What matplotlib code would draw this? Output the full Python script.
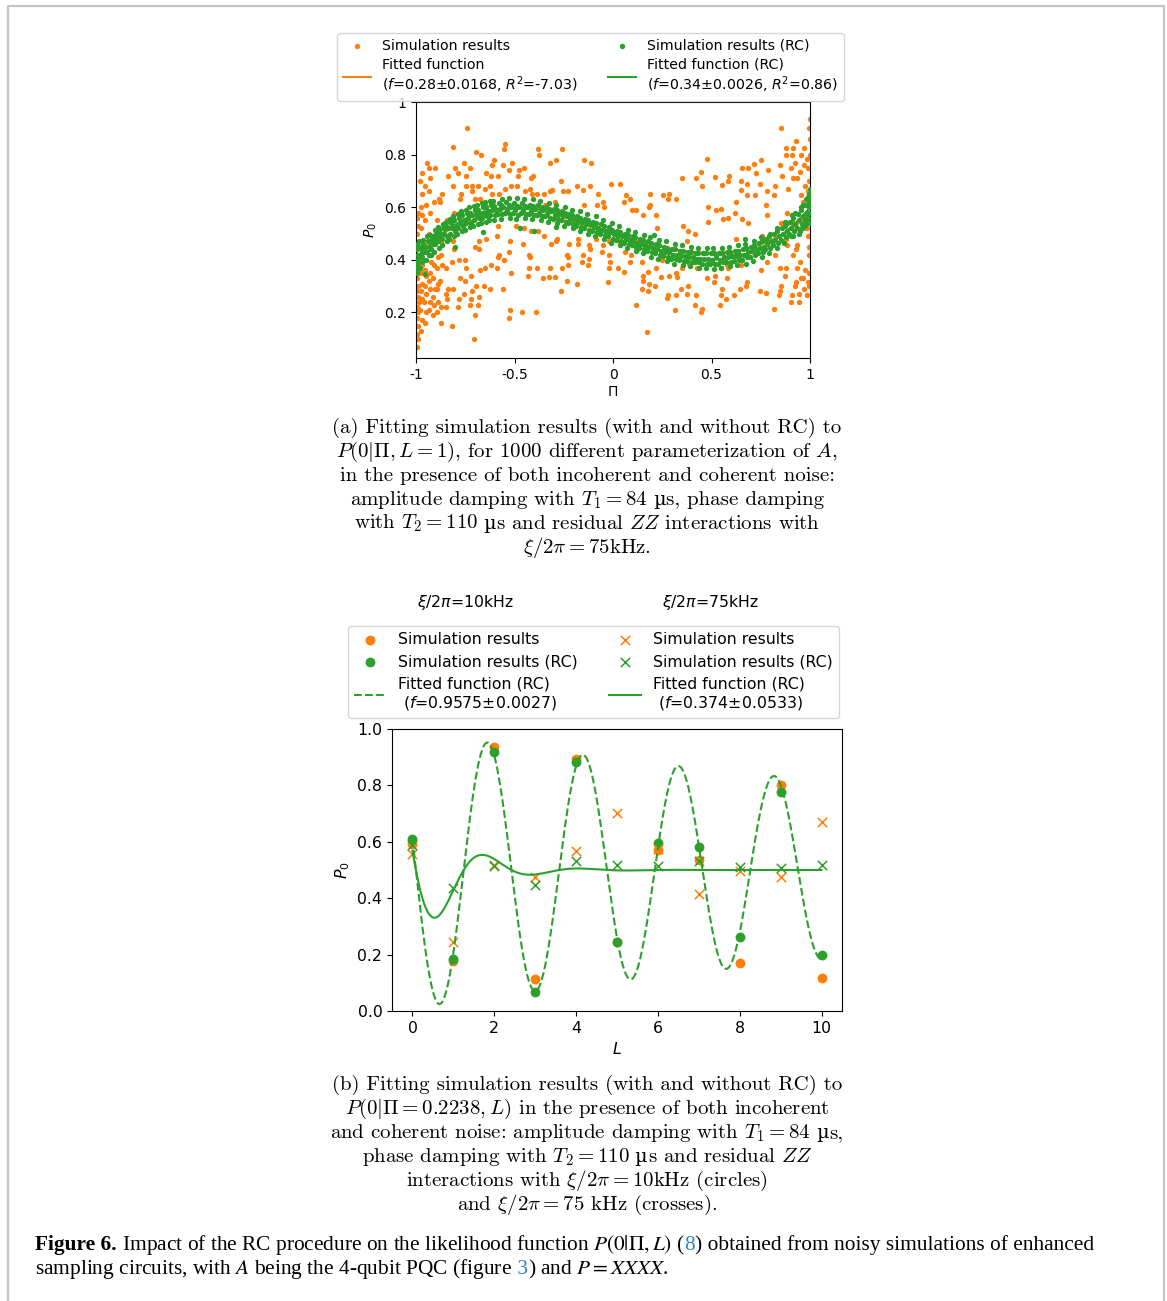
import numpy as np
import matplotlib
matplotlib.use("Agg")
import matplotlib.pyplot as plt

ORANGE = "#ff7f0e"
GREEN = "#2ca02c"
LINK = "#2b86c5"

# ---------------- panel (a): P(0|Pi, L=1) for 1000 parameterizations ----------------
# (Pi, P0) pairs without RC
sim_pts = [
    (-0.995, 0.07), (-0.99, 0.10), (-0.993, 0.12), (-0.988, 0.15), (-0.996, 0.18), (-0.99, 0.20),
    (-0.994, 0.22), (-0.986, 0.24), (-0.992, 0.26), (-0.997, 0.28), (-0.989, 0.30), (-0.994, 0.33),
    (-0.987, 0.36), (-0.995, 0.40), (-0.99, 0.45), (-0.993, 0.50), (-0.988, 0.53), (-0.996, 0.56),
    (-0.991, 0.58), (-0.975, 0.13), (-0.972, 0.17), (-0.978, 0.21), (-0.97, 0.25), (-0.976, 0.28),
    (-0.968, 0.31), (-0.974, 0.35), (-0.971, 0.38), (-0.977, 0.42), (-0.973, 0.52), (-0.969, 0.57),
    (-0.975, 0.60), (-0.972, 0.65), (-0.978, 0.70), (-0.97, 0.73), (-0.955, 0.16), (-0.951, 0.20),
    (-0.957, 0.24), (-0.948, 0.27), (-0.953, 0.30), (-0.95, 0.34), (-0.956, 0.36), (-0.947, 0.43),
    (-0.952, 0.55), (-0.949, 0.61), (-0.954, 0.68), (-0.946, 0.77), (-0.935, 0.21), (-0.931, 0.24),
    (-0.928, 0.29), (-0.934, 0.32), (-0.93, 0.35), (-0.926, 0.39), (-0.933, 0.50), (-0.929, 0.58),
    (-0.936, 0.66), (-0.927, 0.71), (-0.932, 0.75), (-0.915, 0.19), (-0.91, 0.23), (-0.912, 0.26),
    (-0.906, 0.29), (-0.914, 0.33), (-0.908, 0.38), (-0.911, 0.62), (-0.905, 0.75), (-0.895, 0.20),
    (-0.889, 0.24), (-0.892, 0.29), (-0.886, 0.31), (-0.894, 0.37), (-0.888, 0.41), (-0.891, 0.55),
    (-0.885, 0.63), (-0.875, 0.16), (-0.871, 0.22), (-0.878, 0.32), (-0.866, 0.38), (-0.873, 0.42),
    (-0.869, 0.46), (-0.876, 0.62), (-0.868, 0.65), (-0.85, 0.22), (-0.843, 0.25), (-0.848, 0.27),
    (-0.838, 0.29), (-0.846, 0.37), (-0.84, 0.52), (-0.845, 0.55), (-0.836, 0.72), (-0.815, 0.15),
    (-0.81, 0.29), (-0.818, 0.39), (-0.806, 0.44), (-0.812, 0.47), (-0.808, 0.58), (-0.814, 0.68),
    (-0.804, 0.75), (-0.81, 0.83), (-0.785, 0.22), (-0.78, 0.25), (-0.776, 0.33), (-0.782, 0.40),
    (-0.778, 0.63), (-0.774, 0.65), (-0.786, 0.73), (-0.755, 0.27), (-0.75, 0.32), (-0.746, 0.37),
    (-0.752, 0.40), (-0.748, 0.68), (-0.744, 0.72), (-0.754, 0.77), (-0.74, 0.90), (-0.725, 0.23),
    (-0.72, 0.25), (-0.716, 0.28), (-0.722, 0.34), (-0.718, 0.66), (-0.714, 0.68), (-0.726, 0.75),
    (-0.705, 0.10), (-0.70, 0.19), (-0.696, 0.30), (-0.702, 0.45), (-0.698, 0.63), (-0.694, 0.81),
    (-0.685, 0.23), (-0.68, 0.26), (-0.676, 0.36), (-0.682, 0.44), (-0.678, 0.47), (-0.674, 0.63),
    (-0.686, 0.68), (-0.67, 0.80), (-0.655, 0.30), (-0.65, 0.37), (-0.646, 0.48), (-0.652, 0.61),
    (-0.648, 0.67), (-0.644, 0.73), (-0.625, 0.29), (-0.62, 0.38), (-0.616, 0.65), (-0.622, 0.68),
    (-0.618, 0.72), (-0.612, 0.76), (-0.606, 0.78), (-0.59, 0.37), (-0.585, 0.41), (-0.58, 0.42),
    (-0.588, 0.49), (-0.582, 0.53), (-0.578, 0.65), (-0.586, 0.72), (-0.56, 0.29), (-0.555, 0.40),
    (-0.55, 0.67), (-0.558, 0.76), (-0.552, 0.82), (-0.546, 0.84), (-0.53, 0.18), (-0.525, 0.21),
    (-0.52, 0.35), (-0.528, 0.43), (-0.522, 0.47), (-0.518, 0.68), (-0.526, 0.74), (-0.514, 0.77),
    (-0.49, 0.53), (-0.485, 0.68), (-0.48, 0.72), (-0.476, 0.74), (-0.46, 0.20), (-0.455, 0.46),
    (-0.45, 0.52), (-0.446, 0.66), (-0.452, 0.75), (-0.43, 0.34), (-0.425, 0.37), (-0.42, 0.41),
    (-0.428, 0.42), (-0.416, 0.51), (-0.412, 0.65), (-0.422, 0.67), (-0.418, 0.71), (-0.408, 0.72),
    (-0.39, 0.20), (-0.385, 0.37), (-0.38, 0.51), (-0.388, 0.65), (-0.378, 0.80), (-0.382, 0.82),
    (-0.355, 0.33), (-0.35, 0.49), (-0.346, 0.61), (-0.352, 0.65), (-0.325, 0.335), (-0.32, 0.37),
    (-0.316, 0.46), (-0.322, 0.66), (-0.312, 0.665), (-0.318, 0.77), (-0.295, 0.335), (-0.29, 0.47),
    (-0.286, 0.48), (-0.292, 0.62), (-0.288, 0.78), (-0.265, 0.28), (-0.26, 0.37), (-0.256, 0.66),
    (-0.262, 0.70), (-0.258, 0.82), (-0.235, 0.32), (-0.23, 0.38), (-0.226, 0.41), (-0.232, 0.42),
    (-0.222, 0.46), (-0.228, 0.66), (-0.185, 0.31), (-0.18, 0.46), (-0.176, 0.48), (-0.182, 0.68),
    (-0.155, 0.39), (-0.15, 0.42), (-0.146, 0.61), (-0.152, 0.665), (-0.148, 0.78), (-0.125, 0.38),
    (-0.12, 0.405), (-0.116, 0.44), (-0.122, 0.455), (-0.118, 0.68), (-0.112, 0.77), (-0.085, 0.48),
    (-0.08, 0.61), (-0.076, 0.65), (-0.055, 0.43), (-0.05, 0.455), (-0.046, 0.60), (-0.052, 0.62),
    (-0.025, 0.315), (-0.02, 0.37), (-0.016, 0.39), (-0.022, 0.42), (-0.018, 0.47), (-0.012, 0.51),
    (-0.008, 0.69), (0.025, 0.37), (0.03, 0.47), (0.035, 0.69), (0.055, 0.355), (0.06, 0.43),
    (0.064, 0.645), (0.058, 0.62), (0.085, 0.39), (0.09, 0.42), (0.094, 0.59), (0.088, 0.63),
    (0.115, 0.23), (0.12, 0.44), (0.124, 0.455), (0.118, 0.59), (0.145, 0.29), (0.15, 0.32),
    (0.154, 0.34), (0.148, 0.39), (0.152, 0.57), (0.175, 0.125), (0.18, 0.28), (0.184, 0.31),
    (0.178, 0.355), (0.182, 0.60), (0.186, 0.61), (0.19, 0.65), (0.215, 0.30), (0.22, 0.37),
    (0.224, 0.52), (0.218, 0.57), (0.245, 0.335), (0.25, 0.40), (0.254, 0.645), (0.275, 0.255),
    (0.28, 0.265), (0.284, 0.34), (0.278, 0.63), (0.286, 0.65), (0.315, 0.21), (0.32, 0.265),
    (0.324, 0.335), (0.318, 0.35), (0.322, 0.63), (0.345, 0.29), (0.35, 0.37), (0.354, 0.53),
    (0.348, 0.71), (0.375, 0.27), (0.38, 0.30), (0.384, 0.385), (0.378, 0.47), (0.382, 0.51),
    (0.415, 0.23), (0.42, 0.265), (0.424, 0.37), (0.418, 0.50), (0.422, 0.71), (0.445, 0.20),
    (0.45, 0.215), (0.454, 0.68), (0.448, 0.735), (0.475, 0.33), (0.48, 0.545), (0.484, 0.60),
    (0.478, 0.785), (0.515, 0.315), (0.52, 0.34), (0.524, 0.59), (0.518, 0.715), (0.545, 0.23),
    (0.55, 0.265), (0.554, 0.29), (0.548, 0.595), (0.552, 0.685), (0.556, 0.557), (0.575, 0.25),
    (0.58, 0.33), (0.584, 0.37), (0.578, 0.38), (0.582, 0.56), (0.586, 0.70), (0.59, 0.72),
    (0.615, 0.265), (0.62, 0.42), (0.624, 0.48), (0.618, 0.58), (0.622, 0.62), (0.645, 0.29),
    (0.65, 0.38), (0.654, 0.557), (0.648, 0.665), (0.652, 0.70), (0.656, 0.75), (0.675, 0.30),
    (0.68, 0.315), (0.684, 0.54), (0.678, 0.645), (0.682, 0.69), (0.686, 0.75), (0.715, 0.43),
    (0.72, 0.645), (0.724, 0.73), (0.718, 0.765), (0.745, 0.28), (0.75, 0.36), (0.754, 0.49),
    (0.748, 0.69), (0.752, 0.78), (0.775, 0.275), (0.78, 0.39), (0.784, 0.57), (0.778, 0.61),
    (0.782, 0.66), (0.786, 0.74), (0.815, 0.215), (0.82, 0.42), (0.824, 0.48), (0.818, 0.645),
    (0.822, 0.68), (0.845, 0.265), (0.85, 0.28), (0.854, 0.30), (0.848, 0.37), (0.852, 0.54),
    (0.856, 0.72), (0.846, 0.76), (0.855, 0.90), (0.875, 0.34), (0.88, 0.37), (0.884, 0.455),
    (0.878, 0.48), (0.882, 0.58), (0.886, 0.67), (0.876, 0.80), (0.88, 0.825), (0.905, 0.24),
    (0.91, 0.265), (0.912, 0.42), (0.908, 0.545), (0.914, 0.71), (0.906, 0.75), (0.91, 0.80),
    (0.916, 0.825), (0.925, 0.30), (0.93, 0.315), (0.934, 0.37), (0.928, 0.44), (0.932, 0.455),
    (0.936, 0.71), (0.926, 0.77), (0.93, 0.85), (0.945, 0.24), (0.95, 0.39), (0.954, 0.645),
    (0.948, 0.735), (0.952, 0.80), (0.956, 0.33), (0.946, 0.27), (0.965, 0.33), (0.97, 0.52),
    (0.974, 0.68), (0.968, 0.76), (0.972, 0.29), (0.976, 0.36), (0.966, 0.62), (0.97, 0.825),
    (0.975, 0.55), (0.985, 0.265), (0.99, 0.315), (0.994, 0.42), (0.988, 0.49), (0.992, 0.61),
    (0.996, 0.70), (0.986, 0.785), (0.998, 0.86), (0.995, 0.90), (0.999, 0.935), (0.99, 0.58),
    (0.993, 0.35), (0.997, 0.30), (0.989, 0.75), (0.991, 0.66), (0.996, 0.45), (0.987, 0.52),
    (0.999, 0.80),
]

# (Pi, P0) pairs with randomized compiling
rc_pts = [
    (-0.999, 0.36), (-0.998, 0.44), (-0.997, 0.40), (-0.996, 0.35), (-0.995, 0.46), (-0.993, 0.38),
    (-0.992, 0.42), (-0.988, 0.39), (-0.985, 0.45), (-0.982, 0.41), (-0.978, 0.37), (-0.975, 0.44),
    (-0.972, 0.43), (-0.968, 0.41), (-0.963, 0.46), (-0.958, 0.43), (-0.955, 0.348), (-0.952, 0.45),
    (-0.946, 0.43), (-0.941, 0.47), (-0.936, 0.45), (-0.932, 0.42), (-0.926, 0.44), (-0.921, 0.48),
    (-0.916, 0.46), (-0.912, 0.49), (-0.906, 0.46), (-0.901, 0.50), (-0.896, 0.47), (-0.892, 0.49),
    (-0.886, 0.47), (-0.881, 0.51), (-0.876, 0.49), (-0.866, 0.48), (-0.861, 0.52), (-0.856, 0.50),
    (-0.846, 0.53), (-0.841, 0.49), (-0.836, 0.52), (-0.826, 0.50), (-0.821, 0.54), (-0.816, 0.52),
    (-0.806, 0.55), (-0.801, 0.51), (-0.796, 0.53), (-0.80, 0.45), (-0.786, 0.52), (-0.781, 0.56),
    (-0.776, 0.54), (-0.766, 0.57), (-0.761, 0.53), (-0.756, 0.55), (-0.746, 0.54), (-0.741, 0.58),
    (-0.736, 0.56), (-0.726, 0.58), (-0.721, 0.54), (-0.716, 0.57), (-0.706, 0.55), (-0.701, 0.59),
    (-0.696, 0.57), (-0.686, 0.59), (-0.681, 0.56), (-0.676, 0.575), (-0.666, 0.56), (-0.661, 0.60),
    (-0.656, 0.58), (-0.660, 0.504), (-0.646, 0.60), (-0.641, 0.565), (-0.636, 0.585), (-0.626, 0.57),
    (-0.621, 0.61), (-0.616, 0.59), (-0.606, 0.605), (-0.601, 0.57), (-0.596, 0.59), (-0.586, 0.575),
    (-0.581, 0.615), (-0.576, 0.595), (-0.566, 0.61), (-0.561, 0.575), (-0.556, 0.60), (-0.546, 0.58),
    (-0.541, 0.62), (-0.536, 0.59), (-0.526, 0.61), (-0.521, 0.575), (-0.516, 0.60), (-0.506, 0.58),
    (-0.501, 0.615), (-0.496, 0.59), (-0.486, 0.605), (-0.481, 0.57), (-0.476, 0.60), (-0.47, 0.52),
    (-0.466, 0.58), (-0.461, 0.615), (-0.456, 0.59), (-0.446, 0.605), (-0.441, 0.575), (-0.436, 0.60),
    (-0.426, 0.575), (-0.421, 0.61), (-0.416, 0.585), (-0.406, 0.605), (-0.401, 0.57), (-0.396, 0.595),
    (-0.40, 0.51), (-0.386, 0.57), (-0.381, 0.61), (-0.376, 0.58), (-0.366, 0.60), (-0.361, 0.565),
    (-0.356, 0.59), (-0.346, 0.565), (-0.341, 0.60), (-0.336, 0.575), (-0.326, 0.595), (-0.321, 0.56),
    (-0.316, 0.585), (-0.306, 0.555), (-0.301, 0.595), (-0.296, 0.57), (-0.29, 0.525), (-0.286, 0.59),
    (-0.281, 0.555), (-0.276, 0.575), (-0.266, 0.55), (-0.261, 0.585), (-0.256, 0.565), (-0.246, 0.58),
    (-0.241, 0.545), (-0.236, 0.565), (-0.226, 0.54), (-0.221, 0.575), (-0.216, 0.555), (-0.206, 0.57),
    (-0.201, 0.535), (-0.196, 0.555), (-0.186, 0.53), (-0.181, 0.565), (-0.176, 0.545), (-0.166, 0.56),
    (-0.161, 0.525), (-0.156, 0.545), (-0.146, 0.52), (-0.141, 0.555), (-0.136, 0.535), (-0.126, 0.55),
    (-0.121, 0.515), (-0.116, 0.535), (-0.106, 0.51), (-0.101, 0.545), (-0.096, 0.525), (-0.086, 0.54),
    (-0.081, 0.505), (-0.076, 0.52), (-0.066, 0.50), (-0.061, 0.535), (-0.056, 0.515), (-0.046, 0.53),
    (-0.041, 0.495), (-0.036, 0.51), (-0.026, 0.49), (-0.021, 0.525), (-0.016, 0.505), (-0.006, 0.515),
    (-0.001, 0.48), (0.004, 0.50), (0.014, 0.475), (0.019, 0.51), (0.024, 0.49), (0.034, 0.505),
    (0.039, 0.47), (0.044, 0.49), (0.054, 0.465), (0.059, 0.50), (0.064, 0.48), (0.074, 0.495),
    (0.079, 0.46), (0.084, 0.475), (0.094, 0.455), (0.099, 0.49), (0.104, 0.47), (0.114, 0.485),
    (0.119, 0.45), (0.124, 0.465), (0.134, 0.445), (0.139, 0.48), (0.144, 0.46), (0.154, 0.475),
    (0.159, 0.44), (0.164, 0.455), (0.174, 0.435), (0.179, 0.47), (0.184, 0.45), (0.194, 0.465),
    (0.199, 0.43), (0.204, 0.445), (0.21, 0.494), (0.214, 0.425), (0.219, 0.46), (0.224, 0.44),
    (0.234, 0.455), (0.239, 0.42), (0.244, 0.435), (0.254, 0.415), (0.259, 0.45), (0.264, 0.43),
    (0.274, 0.445), (0.279, 0.41), (0.284, 0.43), (0.294, 0.405), (0.299, 0.44), (0.304, 0.42),
    (0.314, 0.44), (0.319, 0.405), (0.324, 0.42), (0.334, 0.40), (0.339, 0.435), (0.344, 0.415),
    (0.354, 0.435), (0.359, 0.395), (0.364, 0.415), (0.374, 0.395), (0.379, 0.43), (0.384, 0.41),
    (0.394, 0.43), (0.399, 0.39), (0.404, 0.41), (0.414, 0.39), (0.419, 0.425), (0.424, 0.405),
    (0.434, 0.425), (0.439, 0.39), (0.444, 0.405), (0.454, 0.385), (0.459, 0.425), (0.464, 0.405),
    (0.474, 0.425), (0.479, 0.385), (0.484, 0.405), (0.494, 0.385), (0.499, 0.425), (0.504, 0.40),
    (0.514, 0.425), (0.519, 0.385), (0.524, 0.41), (0.534, 0.385), (0.539, 0.425), (0.544, 0.40),
    (0.55, 0.37), (0.554, 0.425), (0.559, 0.39), (0.564, 0.41), (0.574, 0.39), (0.579, 0.43),
    (0.584, 0.41), (0.594, 0.43), (0.599, 0.39), (0.604, 0.415), (0.614, 0.395), (0.619, 0.435),
    (0.624, 0.415), (0.634, 0.435), (0.639, 0.40), (0.644, 0.42), (0.654, 0.40), (0.659, 0.44),
    (0.664, 0.42), (0.67, 0.48), (0.674, 0.445), (0.679, 0.41), (0.684, 0.43), (0.694, 0.41),
    (0.699, 0.45), (0.704, 0.435), (0.714, 0.455), (0.719, 0.42), (0.724, 0.44), (0.734, 0.425),
    (0.739, 0.465), (0.744, 0.445), (0.754, 0.47), (0.759, 0.43), (0.764, 0.45), (0.774, 0.44),
    (0.779, 0.48), (0.784, 0.46), (0.794, 0.49), (0.799, 0.445), (0.804, 0.47), (0.814, 0.455),
    (0.819, 0.50), (0.824, 0.475), (0.834, 0.51), (0.839, 0.465), (0.844, 0.49), (0.854, 0.475),
    (0.859, 0.52), (0.864, 0.50), (0.874, 0.53), (0.879, 0.485), (0.884, 0.51), (0.882, 0.54),
    (0.894, 0.50), (0.899, 0.545), (0.904, 0.52), (0.902, 0.49), (0.914, 0.56), (0.919, 0.51),
    (0.924, 0.535), (0.922, 0.58), (0.934, 0.52), (0.939, 0.575), (0.944, 0.55), (0.942, 0.50),
    (0.954, 0.59), (0.959, 0.535), (0.964, 0.565), (0.962, 0.61), (0.957, 0.52), (0.974, 0.55),
    (0.979, 0.61), (0.984, 0.58), (0.982, 0.63), (0.977, 0.53), (0.990, 0.56), (0.993, 0.62),
    (0.995, 0.60), (0.997, 0.65), (0.998, 0.54), (0.999, 0.67), (0.996, 0.58), (0.992, 0.64),
    # outer edge of the RC band
    (-0.99, 0.37), (-0.985, 0.47), (-0.97, 0.39), (-0.965, 0.475), (-0.95, 0.40), (-0.945, 0.49),
    (-0.93, 0.495), (-0.925, 0.42), (-0.91, 0.43), (-0.905, 0.515), (-0.89, 0.525), (-0.885, 0.445),
    (-0.87, 0.455), (-0.865, 0.535), (-0.85, 0.545), (-0.845, 0.47), (-0.83, 0.48), (-0.825, 0.555),
    (-0.81, 0.565), (-0.805, 0.49), (-0.79, 0.50), (-0.785, 0.575), (-0.77, 0.585), (-0.765, 0.51),
    (-0.75, 0.515), (-0.745, 0.59), (-0.73, 0.60), (-0.725, 0.525), (-0.71, 0.53), (-0.705, 0.605),
    (-0.69, 0.61), (-0.685, 0.535), (-0.67, 0.54), (-0.665, 0.615), (-0.65, 0.62), (-0.645, 0.545),
    (-0.63, 0.55), (-0.625, 0.625), (-0.61, 0.625), (-0.605, 0.55), (-0.57, 0.555), (-0.565, 0.63),
    (-0.53, 0.635), (-0.525, 0.56), (-0.49, 0.555), (-0.485, 0.635), (-0.45, 0.63), (-0.445, 0.56),
    (-0.41, 0.555), (-0.405, 0.63), (-0.37, 0.625), (-0.365, 0.55), (-0.33, 0.545), (-0.325, 0.615),
    (-0.29, 0.61), (-0.285, 0.54), (-0.25, 0.53), (-0.245, 0.60), (-0.21, 0.59), (-0.205, 0.52),
    (-0.17, 0.51), (-0.165, 0.585), (-0.13, 0.575), (-0.125, 0.50), (-0.09, 0.49), (-0.085, 0.565),
    (-0.05, 0.55), (-0.045, 0.48), (-0.01, 0.465), (-0.005, 0.54), (0.03, 0.53), (0.035, 0.455),
    (0.07, 0.445), (0.075, 0.515), (0.11, 0.505), (0.115, 0.435), (0.15, 0.425), (0.155, 0.495),
    (0.19, 0.485), (0.195, 0.41), (0.23, 0.405), (0.235, 0.475), (0.27, 0.47), (0.275, 0.395),
    (0.31, 0.385), (0.315, 0.46), (0.35, 0.455), (0.355, 0.38), (0.39, 0.375), (0.395, 0.45),
    (0.43, 0.445), (0.435, 0.37), (0.47, 0.37), (0.475, 0.445), (0.51, 0.445), (0.515, 0.365),
    (0.55, 0.37), (0.555, 0.445), (0.59, 0.45), (0.595, 0.375), (0.63, 0.38), (0.635, 0.455),
    (0.67, 0.46), (0.675, 0.385), (0.71, 0.395), (0.715, 0.47), (0.75, 0.485), (0.755, 0.41),
    (0.79, 0.425), (0.795, 0.50), (0.83, 0.52), (0.835, 0.445), (0.87, 0.465), (0.875, 0.545),
    (0.91, 0.57), (0.915, 0.49), (0.95, 0.51), (0.955, 0.60), (0.99, 0.63), (0.985, 0.54),
]

# fitted decay parameters for L = 1
f_sim_a, f_rc_a = 0.28, 0.34

# ---------------- panel (b): P(0|Pi=0.2238, L) ----------------
pi_b = 0.2238
L_vals = [0, 1, 2, 3, 4, 5, 6, 7, 8, 9, 10]
p_10k = [0.593, 0.178, 0.935, 0.112, 0.894, 0.244, 0.572, 0.537, 0.169, 0.802, 0.118]
p_10k_rc = [0.610, 0.185, 0.919, 0.066, 0.882, 0.244, 0.596, 0.583, 0.261, 0.776, 0.197]
p_75k = [0.557, 0.245, 0.517, 0.474, 0.566, 0.703, 0.575, 0.415, 0.498, 0.476, 0.670]
p_75k_rc = [0.590, 0.436, 0.514, 0.447, 0.531, 0.519, 0.514, 0.532, 0.511, 0.506, 0.517]
f_10k_rc, f_75k_rc = 0.9575, 0.374


def likelihood(pi, L, f):
    # P(0|Pi, L) with depolarising factor f
    return 0.5 * (1 + f ** (L + 0.5) * np.cos((2 * L + 1) * np.arccos(pi)))


W, H = 1167, 1301
fig = plt.figure(figsize=(W / 100, H / 100), dpi=100)


def fx(px):
    return px / W


def fy(py):
    return 1 - py / H


# page frame
frame = fig.add_axes([0, 0, 1, 1], zorder=-5)
frame.set_xlim(0, W)
frame.set_ylim(H, 0)
frame.axis("off")
frame.plot([7.5, 7.5, 1163.5, 1163.5], [H + 5, 5.5, 5.5, H + 5], color="#c4c4c4", lw=1.6)

# ---------- top axes ----------
ax1 = fig.add_axes([fx(416), fy(358), fx(810) - fx(416), fy(102) - fy(358)])
sim_x, sim_y = zip(*sim_pts)
rc_x, rc_y = zip(*rc_pts)
pis = np.linspace(-1, 1, 400)
ln_sim, = ax1.plot(pis, likelihood(pis, 1, f_sim_a), color=ORANGE, lw=1.5, zorder=1,
                   label="Fitted function\n($f$=0.28±0.0168, $R^2$=-7.03)")
ln_rc, = ax1.plot(pis, likelihood(pis, 1, f_rc_a), color=GREEN, lw=1.5, zorder=1,
                  label="Fitted function (RC)\n($f$=0.34±0.0026, $R^2$=0.86)")
sc_sim = ax1.scatter(sim_x, sim_y, s=15, color=ORANGE, lw=0, zorder=2, label="Simulation results")
sc_rc = ax1.scatter(rc_x, rc_y, s=15, color=GREEN, lw=0, zorder=3, label="Simulation results (RC)")
ax1.set_xlim(-1, 1)
ax1.set_ylim(0.027, 1.0)
ax1.set_xticks([-1, -0.5, 0, 0.5, 1])
ax1.set_xticklabels(["-1", "-0.5", "0", "0.5", "1"])
ax1.set_yticks([0.2, 0.4, 0.6, 0.8, 1.0])
ax1.set_yticklabels(["0.2", "0.4", "0.6", "0.8", "1"])
ax1.tick_params(labelsize=10)
ax1.set_xlabel(r"$\Pi$", fontsize=10, labelpad=2)
ax1.set_ylabel(r"$P_0$", fontsize=10)

fig.legend(handles=[sc_sim, ln_sim, sc_rc, ln_rc], ncol=2, fontsize=10.2,
           loc="upper left", bbox_to_anchor=(fx(337), fy(33)), borderaxespad=0,
           handletextpad=0.8, columnspacing=2.1, labelspacing=0.35)

# ---------- bottom axes ----------
ax2 = fig.add_axes([fx(392), fy(1011), fx(842) - fx(392), fy(729) - fy(1011)])
Ls = np.linspace(0, 10, 600)
ln_10k, = ax2.plot(Ls, likelihood(pi_b, Ls, f_10k_rc), color=GREEN, ls="--", lw=1.5,
                   label="Fitted function (RC)\n ($f$=0.9575±0.0027)")
ln_75k, = ax2.plot(Ls, likelihood(pi_b, Ls, f_75k_rc), color=GREEN, ls="-", lw=1.5,
                   label="Fitted function (RC)\n ($f$=0.374±0.0533)")
c_10k = ax2.scatter(L_vals, p_10k, s=50, color=ORANGE, lw=0, marker="o", label="Simulation results")
c_10k_rc = ax2.scatter(L_vals, p_10k_rc, s=50, color=GREEN, lw=0, marker="o", label="Simulation results (RC)")
x_75k = ax2.scatter(L_vals, p_75k, s=45, color=ORANGE, lw=1.1, marker="x", label="Simulation results")
x_75k_rc = ax2.scatter(L_vals, p_75k_rc, s=45, color=GREEN, lw=1.1, marker="x", label="Simulation results (RC)")
ax2.set_xlim(-0.5, 10.5)
ax2.set_ylim(0, 1)
ax2.set_xticks([0, 2, 4, 6, 8, 10])
ax2.set_yticks([0.0, 0.2, 0.4, 0.6, 0.8, 1.0])
ax2.tick_params(labelsize=11.3)
ax2.set_xlabel(r"$L$", fontsize=11.3)
ax2.set_ylabel(r"$P_0$", fontsize=11.3)

fig.legend(handles=[c_10k, c_10k_rc, ln_10k, x_75k, x_75k_rc, ln_75k], ncol=2, fontsize=11.3,
           loc="upper left", bbox_to_anchor=(fx(348), fy(626)), borderaxespad=0,
           handletextpad=0.8, columnspacing=2.0, labelspacing=0.45)
fig.text(fx(465), fy(603), r"$\xi/2\pi$=10kHz", fontsize=11.3, ha="center", va="center")
fig.text(fx(710), fy(603), r"$\xi/2\pi$=75kHz", fontsize=11.3, ha="center", va="center")

# ---------- captions ----------
fig.canvas.draw()
renderer = fig.canvas.get_renderer()
MU = ("µ", {"family": "DejaVu Serif", "fontsize": 13.8})


def text_line(x0, y0, pieces, ha="left", size=14.5, family="Liberation Serif", mathfam="stix"):
    # lay out differently styled pieces of one line next to each other
    texts, widths = [], []
    for s, kw in pieces:
        opts = dict(fontsize=size, family=family, math_fontfamily=mathfam)
        opts.update(kw)
        t = fig.text(0, 1 - y0 / H, s, ha="left", va="baseline", **opts)
        texts.append(t)
        widths.append(t.get_window_extent(renderer).width)
    x = x0 - (sum(widths) / 2 if ha == "center" else 0)
    for t, w in zip(texts, widths):
        t.set_x(x / W)
        x += w


cap_a = [
    [("(a) Fitting simulation results (with and without RC) to", {})],
    [(r"$P(0|\Pi, L = 1)$, for 1000 different parameterization of $A$,", {})],
    [("in the presence of both incoherent and coherent noise:", {})],
    [(r"amplitude damping with $T_1 = 84$", {}), (" " + MU[0], MU[1]), ("s, phase damping", {})],
    [(r"with $T_2 = 110$", {}), (" " + MU[0], MU[1]), (r"s and residual $ZZ$ interactions with", {})],
    [(r"$\xi/2\pi = 75$kHz.", {})],
]
cap_b = [
    [("(b) Fitting simulation results (with and without RC) to", {})],
    [(r"$P(0|\Pi = 0.2238, L)$ in the presence of both incoherent", {})],
    [(r"and coherent noise: amplitude damping with $T_1 = 84$", {}), (" " + MU[0], MU[1]), ("s,", {})],
    [(r"phase damping with $T_2 = 110$", {}), (" " + MU[0], MU[1]), (r"s and residual $ZZ$", {})],
    [(r"interactions with $\xi/2\pi = 10$kHz (circles)", {})],
    [(r"and $\xi/2\pi = 75$ kHz (crosses).", {})],
]
for lines, y0 in [(cap_a, 433), (cap_b, 1090)]:
    for i, pieces in enumerate(lines):
        text_line(587, y0 + 23.9 * i, pieces, ha="center", size=15.0,
                  family="cmr10", mathfam="cm")

text_line(35, 1250, [
    ("Figure 6.", {"weight": "bold"}),
    (r" Impact of the RC procedure on the likelihood function $P(0|\Pi, L)$ (", {}),
    ("8", {"color": LINK}),
    (") obtained from noisy simulations of enhanced", {}),
], size=15.4)
text_line(35, 1274, [
    (r"sampling circuits, with $A$ being the 4-qubit PQC (figure", {}),
    (" 3", {"color": LINK}),
    (r") and $P = XXXX$.", {}),
], size=15.4)

fig.savefig("out.png", dpi=100)
